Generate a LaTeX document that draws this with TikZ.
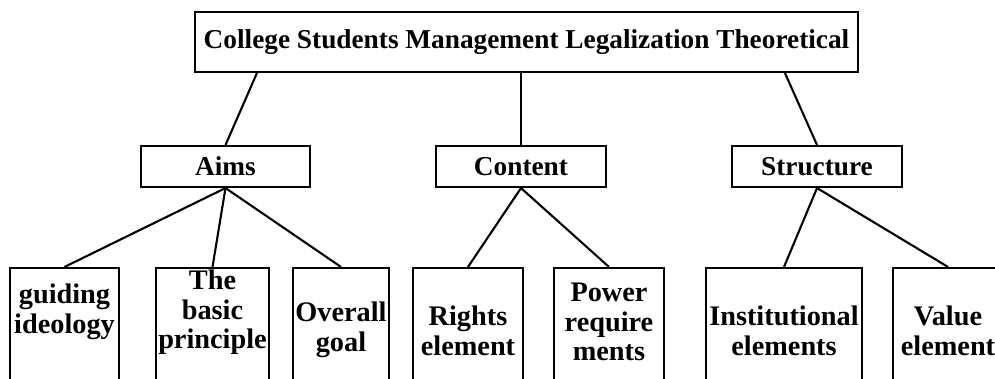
\documentclass[tikz,border=0pt]{standalone}
\usepackage{fontspec}
\setmainfont{Liberation Serif}
\usetikzlibrary{calc}
\usetikzlibrary{positioning}
\tikzset{
  box/.style={draw, black, line width=2.1pt, rectangle, inner sep=0pt, align=center,
    font=\bfseries\fontsize{27.3}{29}\selectfont},
  midbox/.style={box, minimum width=170pt, minimum height=41pt},
  leaf/.style={draw, black, line width=2.1pt, rectangle, minimum height=162pt},
  word/.style={inner sep=0pt, align=center, font=\bfseries\fontsize{28.3}{29.5}\selectfont},
  link/.style={black, line width=2.1pt},
}

\begin{document}
\begin{tikzpicture}[x=1pt, y=-1pt]
\clip (0,0) rectangle (995,378);
% top and middle level
\node[box, minimum width=663pt, minimum height=60pt] (top) at (526.5,42)
  {College Students Management Legalization Theoretical};
\node[midbox, minimum width=169pt] (aims) at (225.5,166.5) {Aims};
\node[midbox] (content) at (521,166.5) {Content};
\node[midbox] (structure) at (817,166.5) {Structure};
\draw[link] ($(top.south west)+(63,0)$) -- (aims.north);
\draw[link] (top.south -| content.north) -- (content.north);
\draw[link] ($(top.south west)+(591,0)$) -- (structure.north);
% lower level, boxes run off the page
\node[leaf, minimum width=109pt] (guide) at (64.5,349) {};
\node[leaf, minimum width=113pt] (basic) at (212.5,349) {};
\node[leaf, minimum width=96pt] (overall) at (341,349) {};
\node[leaf, minimum width=110pt] (rights) at (468,349) {};
\node[leaf, minimum width=110pt] (power) at (609,349) {};
\node[leaf, minimum width=156pt] (inst) at (784,349) {};
\node[leaf, minimum width=110pt] (value) at (948,349) {};
\node[word] (guidetxt) at (64.5,312) {guiding\\ideology};
\node[word] (basictxt) at (212.5,312.5) {The\\basic\\principle};
\node[word] (overalltxt) at (341,330) {Overall\\goal};
\node[word] (rightstxt) at (468,331) {Rights\\element};
\node[word] (powertxt) at (609,322) {Power\\require\\ments};
\node[word] (insttxt) at (784,331) {Institutional\\elements};
\node[word] (valuetxt) at (948,331) {Value\\element};
\foreach \leaf in {guide,basic,overall} \draw[link] (aims.south) -- (\leaf.north);
\foreach \leaf in {rights,power} \draw[link] (content.south) -- (\leaf.north);
\foreach \leaf in {inst,value} \draw[link] (structure.south) -- (\leaf.north);
\end{tikzpicture}
\end{document}
